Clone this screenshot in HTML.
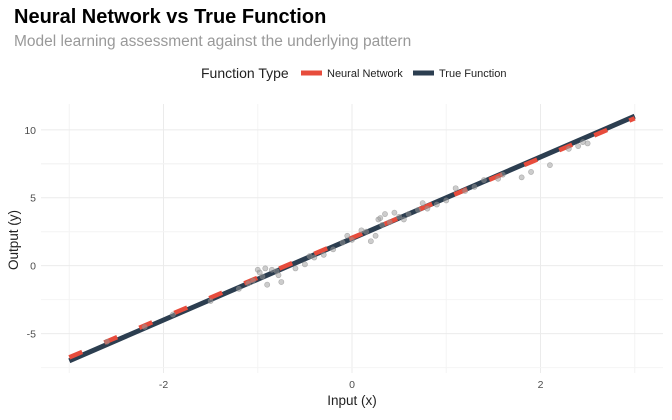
<!DOCTYPE html>
<html><head><meta charset="utf-8"><style>
body{margin:0;background:#fff;font-family:"Liberation Sans",sans-serif}
svg text{font-family:"Liberation Sans",sans-serif}
</style></head><body>
<svg id="c" width="672" height="415">
<text x="14" y="23" font-size="20" font-weight="bold" fill="#000">Neural Network vs True Function</text>
<text x="14" y="46" font-size="15.5" fill="#999">Model learning assessment against the underlying pattern</text>
<g>
<text x="201" y="78" font-size="14" fill="#222">Function Type</text>
<line x1="301" y1="73" x2="322" y2="73" stroke="#e74c3c" stroke-width="5"/>
<text x="327" y="77" font-size="11" fill="#222">Neural Network</text>
<line x1="413" y1="73" x2="434" y2="73" stroke="#2c3e50" stroke-width="5"/>
<text x="439" y="77" font-size="11" fill="#222">True Function</text>
</g>
<g id="grid"></g><g id="marks"></g><g id="axes"></g>
<text x="352" y="405" font-size="13.5" text-anchor="middle" fill="#222">Input (x)</text>
<text transform="translate(18,240) rotate(-90)" font-size="13.5" text-anchor="middle" fill="#222">Output (y)</text>
</svg>
<script>
const xTicks=[-2,0,2];
const yTicks=[-5,0,5,10];
const lineX=[-3,3];
const trueY=[-7,11];
const nnY=[-6.75,10.85];
const ptX=[-2.6,-2.2,-1.9,-1.5,-1.2,-1.1,-1.05,-1.0,-0.98,-0.95,-0.92,-0.9,-0.85,-0.8,-0.78,-0.75,-0.6,-0.5,-0.45,-0.4,-0.3,-0.2,-0.1,-0.05,0.0,0.1,0.15,0.2,0.25,0.28,0.3,0.32,0.35,0.4,0.45,0.5,0.55,0.6,0.7,0.75,0.8,0.9,1.0,1.1,1.2,1.3,1.4,1.55,1.6,1.8,1.9,2.1,2.3,2.4,2.45,2.5];
const ptY=[-5.6,-4.5,-3.6,-2.6,-1.7,-1.3,-1.1,-0.3,-0.5,-0.8,-0.2,-1.4,-0.3,-0.4,-0.7,-1.2,-0.2,0.1,0.7,0.6,0.8,1.2,1.7,2.2,1.9,2.6,2.5,1.8,2.2,3.4,3.5,3.0,3.8,3.2,3.9,3.6,3.4,3.8,4.1,4.6,4.2,4.5,4.8,5.7,5.5,5.8,6.3,6.4,6.7,6.5,6.9,7.4,8.6,8.8,9.1,9.0];
const X0=-3.3,X1=3.3,Y0=-7.9,Y1=11.9,L=41,R=663,T=104,B=373;
const sx=v=>L+(v-X0)/(X1-X0)*(R-L);
const sy=v=>B-(v-Y0)/(Y1-Y0)*(B-T);
const NS="http://www.w3.org/2000/svg";
function mk(p,t,a){const e=document.createElementNS(NS,t);for(const k in a)e.setAttribute(k,a[k]);p.appendChild(e);return e;}
const g=document.getElementById('grid'),m=document.getElementById('marks'),ax=document.getElementById('axes');
for(let i=0;i<xTicks.length;i++){const v=xTicks[i];
 const l=mk(g,'line',{x1:sx(v),x2:sx(v),y1:T,y2:B,stroke:'#ebebeb','stroke-width':1});
 
 
 const l2=mk(g,'line',{x1:sx(v-1),x2:sx(v-1),y1:T,y2:B,stroke:'#f4f4f4','stroke-width':1});
 
 
 if(i==xTicks.length-1){const l3=mk(g,'line',{x1:sx(v+1),x2:sx(v+1),y1:T,y2:B,stroke:'#f4f4f4','stroke-width':1});
 
 }
 const t=mk(ax,'text',{x:sx(v),y:B+15,'font-size':10.5,'text-anchor':'middle',fill:'#4d4d4d'});t.textContent=v;
 
 
}
for(const v of yTicks){
 const l=mk(g,'line',{x1:L,x2:R,y1:sy(v),y2:sy(v),stroke:'#ebebeb','stroke-width':1});
 
 
 const l2=mk(g,'line',{x1:L,x2:R,y1:sy(v-2.5),y2:sy(v-2.5),stroke:'#f4f4f4','stroke-width':1});
 
 
 const t=mk(ax,'text',{x:L-5,y:sy(v)+4,'font-size':10.5,'text-anchor':'end',fill:'#4d4d4d'});t.textContent=v;
 
 
}
{const l=mk(g,'line',{x1:L,x2:R,y1:sy(7.5),y2:sy(7.5),stroke:'#f4f4f4','stroke-width':1});
 
 }
const tl=mk(m,'line',{x1:sx(lineX[0]),y1:sy(trueY[0]),x2:sx(lineX[1]),y2:sy(trueY[1]),stroke:'#2c3e50','stroke-width':5});


const nl=mk(m,'line',{x1:sx(lineX[0]),y1:sy(nnY[0]),x2:sx(lineX[1]),y2:sy(nnY[1]),stroke:'#e74c3c','stroke-width':4.5,'stroke-dasharray':'14 24'});


for(let i=0;i<ptX.length;i++){
 const c=mk(m,'circle',{cx:sx(ptX[i]),cy:sy(ptY[i]),r:2.6,fill:'#999','fill-opacity':0.5,stroke:'#888','stroke-opacity':0.6,'stroke-width':0.6});
 
 
}
</script>
</body></html>
